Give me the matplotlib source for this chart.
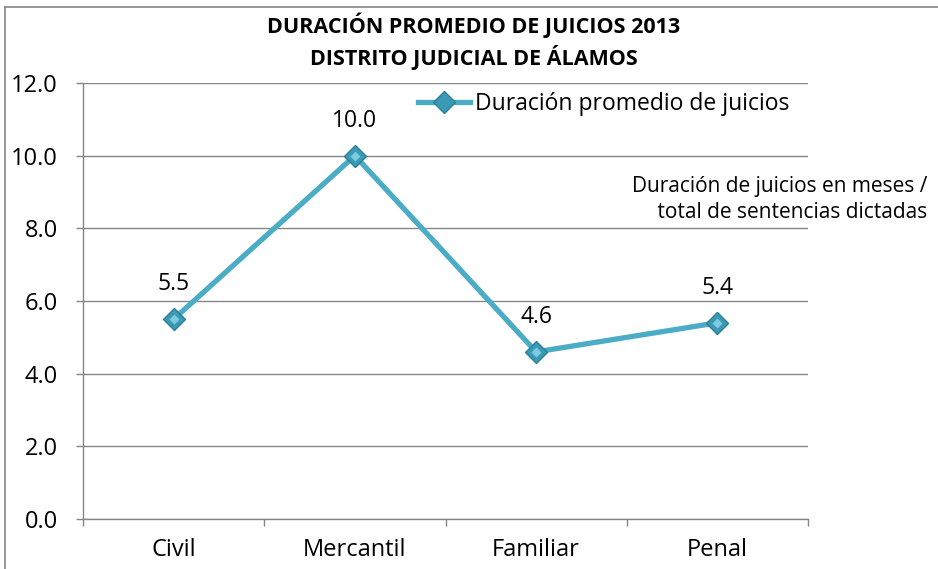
import matplotlib
matplotlib.use('Agg')
import matplotlib.pyplot as plt
from matplotlib.lines import Line2D

plt.rcParams['font.family'] = ['Open Sans', 'DejaVu Sans']

# data
categorias = ['Civil', 'Mercantil', 'Familiar', 'Penal']
duracion = [5.5, 10.0, 4.6, 5.4]
yticks = [0, 2, 4, 6, 8, 10, 12]

line_color = '#4BACC6'
grid_color = '#868686'

fig = plt.figure(figsize=(9.38, 5.69), dpi=100)
ax = fig.add_axes([83/938, 1-519/569, (808-83)/938, (519-83)/569])

x = list(range(len(categorias)))
ax.plot(x, duracion, color=line_color, lw=3.8, marker='D', markersize=11,
        markerfacecolor='#3A9AB5', markeredgecolor='#2B7F96', markeredgewidth=1,
        label='Duración promedio de juicios', zorder=3)
# highlight on markers for the bevel look
ax.plot(x, duracion, ls='none', marker='D', markersize=5,
        markerfacecolor='#7CCBE0', markeredgecolor='none', zorder=4)

for xi, v in zip(x, duracion):
    ax.annotate('%.1f' % v, (xi, v), xytext=(0, 25), textcoords='offset points',
                ha='center', va='center', fontsize=16.5)

ax.set_xlim(-0.5, len(categorias) - 0.5)
ax.set_ylim(0, 12)
ax.set_yticks(yticks)
ax.set_yticklabels(['%.1f' % v for v in yticks], fontsize=17)
ax.set_xticks(x)
ax.set_xticklabels(categorias, fontsize=17)
ax.set_xticks([i - 0.5 for i in range(len(categorias) + 1)], minor=True)
ax.tick_params(axis='x', which='major', length=0, pad=14)
ax.tick_params(axis='x', which='minor', length=5, color=grid_color, width=1)
ax.tick_params(axis='y', length=5, color=grid_color, width=1, pad=13)
ax.grid(axis='y', color=grid_color, lw=1)
ax.set_axisbelow(True)
for s in ['top', 'right']:
    ax.spines[s].set_visible(False)
for s in ['left', 'bottom']:
    ax.spines[s].set_color(grid_color)
    ax.spines[s].set_linewidth(1)

ax.legend(loc='center left', bbox_to_anchor=(0.462, 0.952), frameon=False,
          fontsize=16.5, handlelength=2.25, handletextpad=0.25,
          borderaxespad=0, borderpad=0)

fig.text(0.505, 0.978, 'DURACIÓN PROMEDIO DE JUICIOS 2013\nDISTRITO JUDICIAL DE ÁLAMOS',
         ha='center', va='top', fontsize=15.5, fontweight='bold', linespacing=1.35)
fig.text(0.989, 0.649, 'Duración de juicios en meses /\n total de sentencias dictadas',
         ha='right', va='center', fontsize=15, linespacing=1.3)

# outer border (left and top edges visible)
fig.add_artist(Line2D([5/938, 5/938], [0, 1-7/569], color=grid_color, lw=1.2,
                      transform=fig.transFigure))
fig.add_artist(Line2D([5/938, 1], [1-7/569, 1-7/569], color=grid_color, lw=1.2,
                      transform=fig.transFigure))

fig.savefig('out.png', dpi=100)
